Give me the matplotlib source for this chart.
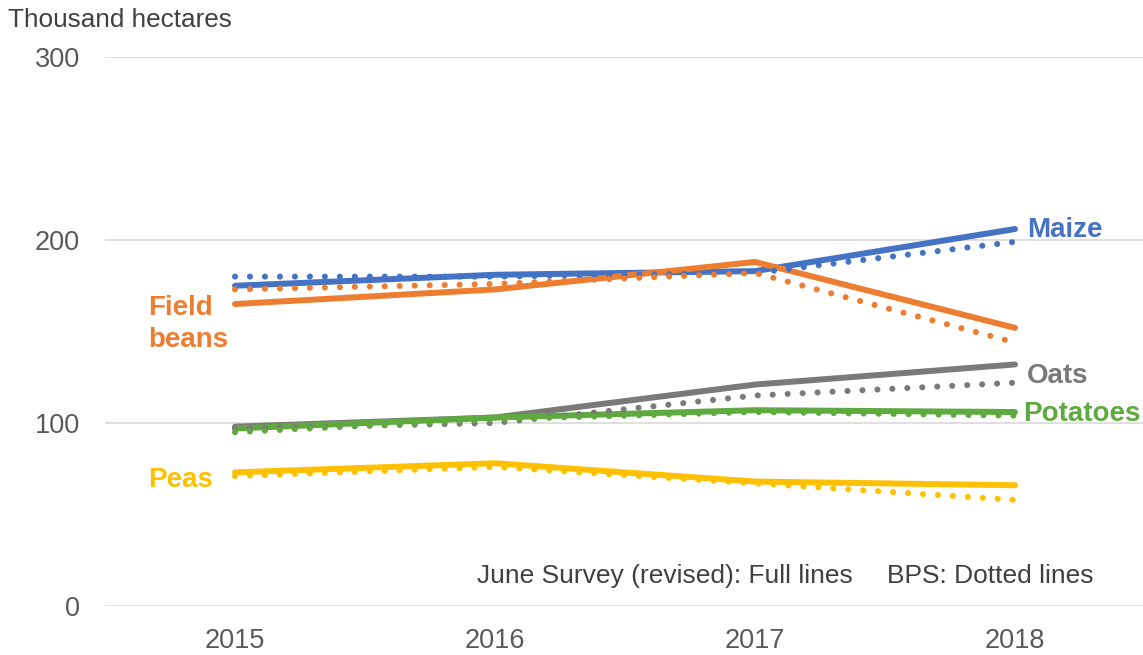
import numpy as np
import matplotlib.pyplot as plt

# data (thousand hectares)
years = [2015, 2016, 2017, 2018]

maize_june = [175, 181, 183, 206]
maize_bps = [180, 180, 182, 199]
beans_june = [165, 173, 188, 152]
beans_bps = [173, 176, 182, 144]
oats_june = [98, 103, 121, 132]
oats_bps = [97, 100, 115, 122]
potatoes_june = [97, 103, 107, 106]
potatoes_bps = [95, 102, 106, 104]
peas_june = [73, 78, 68, 66]
peas_bps = [71, 76, 67, 58]

crops = ["Maize", "Field\nbeans", "Oats", "Potatoes", "Peas"]
colours = ["#4472C4", "#ED7D31", "#7A7A7A", "#5FAA3E", "#FFC000"]

plt.rcParams['font.family'] = ['Liberation Sans', 'DejaVu Sans']

fig = plt.figure(figsize=(11.43, 6.55), dpi=100)
ax = fig.add_axes([105 / 1143, 49 / 655, 1040 / 1143, 549 / 655])

june = [maize_june, beans_june, oats_june, potatoes_june, peas_june]
bps = [maize_bps, beans_bps, oats_bps, potatoes_bps, peas_bps]

for j, b, c in zip(june, bps, colours):
    ax.plot(years, b, color=c, lw=4.4, linestyle=(0, (0.001, 2.45)),
            dash_capstyle='round', zorder=3)
    ax.plot(years, j, color=c, lw=4.3, solid_capstyle='round', zorder=2)

ax.set_xlim(2014.5, 2018.5)
ax.set_ylim(0, 300)
ax.set_yticks([0, 100, 200, 300])
ax.set_xticks(years)
ax.grid(axis='y', color='#d9d9d9', lw=1.2)
ax.set_axisbelow(True)
for s in ax.spines.values():
    s.set_visible(False)
ax.tick_params(length=0, labelsize=19.5, labelcolor='#595959')
ax.tick_params(axis='y', pad=18)
ax.tick_params(axis='x', pad=16)

# series labels
lab = dict(fontsize=20, fontweight='bold', va='center')
ax.text(2018.045, 205.5, "Maize", color=colours[0], **lab)
ax.text(2014.665, 154, "Field\nbeans", color=colours[1], linespacing=1.3, **lab)
ax.text(2018.045, 125.5, "Oats", color=colours[2], **lab)
ax.text(2018.03, 105, "Potatoes", color=colours[3], **lab)
ax.text(2014.665, 69, "Peas", color=colours[4], **lab)

ax.text(2015.93, 16.4, "June Survey (revised): Full lines", fontsize=19,
        color='#404040', va='center')
ax.text(2017.508, 16.4, "BPS: Dotted lines", fontsize=19,
        color='#404040', va='center')

fig.text(8 / 1143, 1 - 20 / 655, "Thousand hectares", fontsize=18.8,
         color='#404040', va='center')

fig.savefig("out.png", dpi=100)
